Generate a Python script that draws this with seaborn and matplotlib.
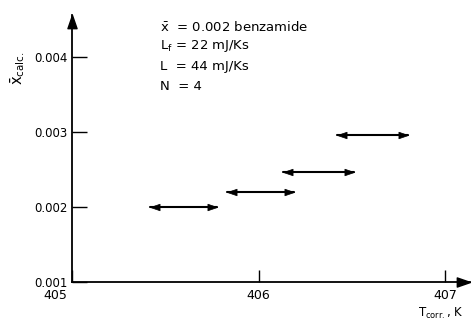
import numpy as np
import pandas as pd
import matplotlib
matplotlib.use("Agg")
import matplotlib.pyplot as plt
import matplotlib.transforms as mtransforms
import seaborn as sns

# Data
x_start = [405.42, 405.83, 406.13, 406.42]
x_end = [405.78, 406.19, 406.51, 406.80]
x_calc = [0.00200, 0.00220, 0.00247, 0.00296]
x_ticks = [405, 406, 407]
x_ticklabels = ["405", "406", "407"]
y_ticks = [0.001, 0.002, 0.003, 0.004]
y_ticklabels = ["0.001", "0.002", "0.003", "0.004"]
info_lines = [r"$\bar{\mathrm{x}}$  = 0.002 benzamide",
              r"L$_\mathrm{f}$ = 22 mJ/Ks",
              r"L  = 44 mJ/Ks",
              r"N  = 4"]

sns.set_theme(style="white")
plt.rcParams["font.family"] = ["DejaVu Sans"]
plt.rcParams["mathtext.fontset"] = "dejavusans"
plt.rcParams["text.color"] = "black"

W, H = 471, 322
fig = plt.figure(figsize=(W / 100, H / 100), dpi=100)
left, right, bottom, top = 72, 470, 282, 15
ax = fig.add_axes([left / W, 1 - bottom / H, (right - left) / W, (bottom - top) / H])

segs = pd.DataFrame({
    "T": x_start + x_end,
    "x": x_calc + x_calc,
    "id": list(range(len(x_start))) * 2,
})
sns.lineplot(data=segs, x="T", y="x", units="id", estimator=None,
             color="black", linewidth=1.5, ax=ax, legend=False, sort=True)

right_head = [(0, 0), (-2.2, -0.75), (-2.2, 0.75), (0, 0)]
left_head = [(0, 0), (2.2, -0.75), (2.2, 0.75), (0, 0)]
sns.scatterplot(x=x_end, y=x_calc, marker=right_head, s=190, color="black",
                edgecolor="black", linewidth=0.5, ax=ax, legend=False)
sns.scatterplot(x=x_start, y=x_calc, marker=left_head, s=190, color="black",
                edgecolor="black", linewidth=0.5, ax=ax, legend=False)

ax.set_xlim(405, 405 + (right - left) / 186.5)
ax.set_ylim(0.001, 0.001 + (bottom - top) / 75 * 0.001)

ax.set_xticks(x_ticks)
ax.set_xticklabels(x_ticklabels)
ax.set_yticks(y_ticks)
ax.set_yticklabels(y_ticklabels)
ax.tick_params(axis="y", direction="in", length=11, width=1.0, pad=3,
               labelsize=8.5, colors="black", left=True)
ax.tick_params(axis="x", direction="in", length=9, width=1.0, pad=5,
               labelsize=9, colors="black", bottom=True)
# shift "405" label left of the origin
lab405 = ax.get_xticklabels()[0]
lab405.set_transform(lab405.get_transform() +
                     mtransforms.ScaledTranslation(-17 / 100, 0, fig.dpi_scale_trans))

for s in ["top", "right"]:
    ax.spines[s].set_visible(False)
for s in ["left", "bottom"]:
    ax.spines[s].set_color("black")
    ax.spines[s].set_linewidth(1.3)
ax.set_xlabel("")
ax.set_ylabel("")

# axis arrowheads
up_head = [(0, 0), (-0.45, -1.3), (0.45, -1.3), (0, 0)]
rt_head = [(0, 0), (-1.3, -0.45), (-1.3, 0.45), (0, 0)]
ax.plot([0], [1], marker=up_head, markersize=19, color="black",
        transform=ax.transAxes, clip_on=False)
ax.plot([1], [0], marker=rt_head, markersize=19, color="black",
        transform=ax.transAxes, clip_on=False)

# annotation text
ys = [27, 46, 66, 87]
for line, yy in zip(info_lines, ys):
    fig.text(160 / W, 1 - yy / H, line, fontsize=9.5, ha="left", va="center",
             color="black")

fig.text(18 / W, 1 - 68 / H, r"$\bar{\mathrm{x}}_{\mathrm{calc.}}$", fontsize=10.5,
         rotation=90, ha="center", va="center", color="black")
fig.text(418 / W, 1 - 313 / H, r"T$_{\mathrm{corr.}}$, K", fontsize=8.5,
         ha="left", va="center", color="black")

fig.savefig("out.png", dpi=100)
